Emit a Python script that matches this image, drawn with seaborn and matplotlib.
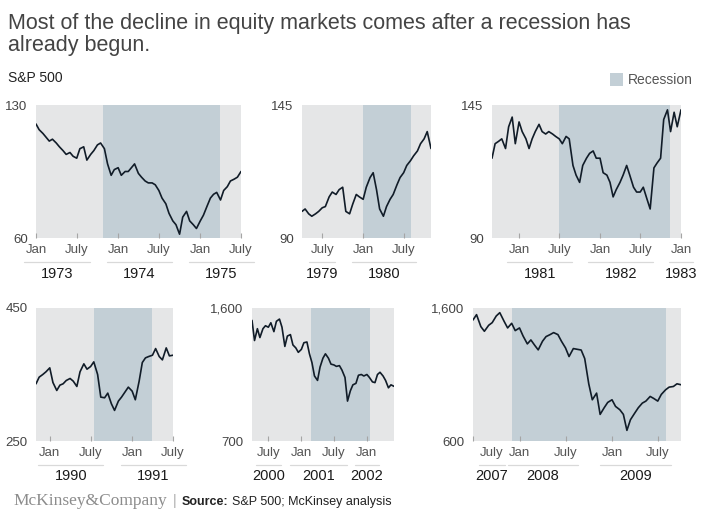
import pandas as pd
import matplotlib
matplotlib.use('Agg')
import matplotlib.pyplot as plt
import matplotlib.dates as mdates
from matplotlib.lines import Line2D
from matplotlib.patches import Rectangle
from matplotlib.transforms import ScaledTranslation
import seaborn as sns

# S&P 500, semi-monthly readings (1st and 15th of each month)
sp_1973 = [120, 117, 115, 113, 111, 112, 110, 108, 106, 104, 105, 103,
           102, 107, 108, 101, 104, 106, 109, 110, 107, 99, 93, 96,
           97, 93, 95, 95, 97, 99, 94, 92, 90, 89, 89, 88,
           85, 81, 78, 73, 69, 67, 62, 71, 74, 69, 67, 65,
           69, 72, 77, 81, 83, 84, 80, 85, 87, 90, 91, 92, 95]
sp_1979 = [101, 102, 100, 99, 100, 101, 102.5, 103, 107, 109, 108, 110,
           111, 101, 100, 104, 108, 107,
           106, 111, 115, 117, 110, 102, 99, 103, 106, 108, 112, 115,
           117, 120, 122, 124, 126, 129, 131, 134, 127]
sp_1981 = [123, 129, 130, 131, 127, 136, 140, 129,
           138, 134, 131, 127, 131, 134, 137, 134, 133, 134, 133, 132,
           131, 129, 132, 131, 120, 116, 113, 120, 123, 125, 126, 123,
           123, 117, 116, 113, 107, 110, 113, 116, 120, 116, 111, 109,
           109, 111, 106, 102, 119, 121, 123, 139, 143, 134, 142, 136,
           143]
sp_1990 = [336, 346, 350, 354,
           360, 338, 326, 334, 336, 341, 344, 340, 332, 354, 366, 358,
           362, 369, 350, 316, 315, 322, 306, 296, 310, 316, 324, 331,
           325, 312, 340, 368, 375, 377, 379, 389, 377, 372, 390, 378, 379]
sp_2001 = [1516, 1380, 1460, 1400, 1460, 1480, 1470, 1500, 1440, 1510,
           1525, 1470, 1340, 1410, 1420, 1350, 1330, 1300,
           1320, 1365, 1370, 1290, 1230, 1140, 1110, 1200, 1260, 1290,
           1260, 1220, 1215, 1205, 1210, 1180, 1130, 970, 1040, 1080,
           1090, 1145, 1150, 1140,
           1150, 1130, 1100, 1095, 1150, 1165, 1140, 1110, 1060, 1080, 1070]
sp_2008 = [1510, 1550, 1460, 1425, 1470, 1490, 1540, 1565, 1500, 1450,
           1485, 1430,
           1450, 1390, 1330, 1360, 1320, 1285, 1350, 1385, 1400, 1415,
           1400, 1350, 1300, 1235, 1295, 1290, 1284, 1220, 1030, 910,
           960, 800, 850, 890,
           910, 860, 835, 800, 680, 760, 810, 850, 885, 900, 935, 920,
           900, 950, 985, 1005, 1010, 1030, 1023]

series_starts = ['1973-01-01', '1979-04-01', '1980-09-01',
                 '1989-11-01', '2000-04-01', '2007-07-01']
series_values = [sp_1973, sp_1979, sp_1981, sp_1990, sp_2001, sp_2008]
y_limits = [(60, 130), (90, 145), (90, 145), (250, 450), (700, 1600), (600, 1600)]
recessions = [('1973-10-24', '1975-03-28'), ('1980-01-01', '1980-08-01'),
              ('1981-07-01', '1982-11-13'), ('1990-07-14', '1991-03-29'),
              ('2001-02-25', '2002-01-19'), ('2007-12-01', '2009-08-03')]
month_ticks = [
    ['1973-01-01', '1973-07-01', '1974-01-01', '1974-07-01', '1975-01-01', '1975-07-01'],
    ['1979-07-01', '1980-01-01', '1980-07-01'],
    ['1981-01-01', '1981-07-01', '1982-01-01', '1982-07-01', '1983-01-01'],
    ['1990-01-01', '1990-07-01', '1991-01-01', '1991-07-01'],
    ['2000-07-01', '2001-01-01', '2001-07-01', '2002-01-01'],
    ['2007-07-01', '2008-01-01', '2008-07-01', '2009-01-01', '2009-07-01'],
]

# layout in image pixels: left, top, right, bottom
W, H = 701, 522
boxes = [(36, 105, 241, 238), (302, 105, 431, 238), (492, 105, 681, 238),
         (36, 308, 173, 441), (252, 308, 394, 441), (473, 308, 681, 441)]

BG = '#e5e6e7'
REC = '#c3cfd6'
LINE = '#111c28'

sns.set_style('white')
plt.rcParams['font.family'] = ['Liberation Sans', 'DejaVu Sans']

fig = plt.figure(figsize=(W / 100, H / 100), dpi=100)

year_groups = []
for i, (vals, start) in enumerate(zip(series_values, series_starts)):
    l, t, r, b = boxes[i]
    ax = fig.add_axes([l / W, 1 - b / H, (r - l) / W, (b - t) / H])
    ax.set_facecolor(BG)
    dates = pd.date_range(start, periods=len(vals), freq='SMS')
    df = pd.DataFrame({'date': dates, 'value': vals})

    r0, r1 = recessions[i]
    ax.axvspan(mdates.date2num(pd.Timestamp(r0)), mdates.date2num(pd.Timestamp(r1)),
               color=REC, lw=0, zorder=0)
    sns.lineplot(data=df, x='date', y='value', ax=ax, color=LINE, lw=1.2)

    ax.set_xlim(mdates.date2num(dates[0]), mdates.date2num(dates[-1]))
    lo, hi = y_limits[i]
    ax.set_ylim(lo, hi)
    ax.set_yticks([lo, hi])
    ax.set_yticklabels([f'{lo:,}', f'{hi:,}'])
    ax.set_xlabel('')
    ax.set_ylabel('')
    for s in ax.spines.values():
        s.set_visible(False)

    tick_nums = [mdates.date2num(pd.Timestamp(d)) for d in month_ticks[i]]
    ax.set_xticks(tick_nums)
    ax.set_xticklabels([''] * len(tick_nums))
    ax.tick_params(axis='x', direction='in', length=3.5, width=0.8,
                   color='#a5a5a5', bottom=True)
    ax.tick_params(axis='y', length=0, pad=6, labelsize=9.5, labelcolor='#444444')

    hgt = b - t
    groups = {}
    for d, xn in zip(month_ticks[i], tick_nums):
        ts = pd.Timestamp(d)
        lab = 'Jan' if ts.month == 1 else 'July'
        tr = ax.get_xaxis_transform()
        if i == 5 and d == '2007-07-01':
            tr = tr + ScaledTranslation(19 / 100, 0, fig.dpi_scale_trans)
        txt = ax.text(xn, -12 / hgt, lab, transform=tr, ha='center', va='center',
                      fontsize=9.5, color='#555555')
        groups.setdefault(ts.year, []).append(txt)
    year_groups.append((b, groups))

# year lines and labels under the month labels
fig.canvas.draw()
renderer = fig.canvas.get_renderer()
for b, groups in year_groups:
    for year, texts in groups.items():
        bbs = [tx.get_window_extent(renderer) for tx in texts]
        x0 = min(bb.x0 for bb in bbs) - 1
        x1 = max(bb.x1 for bb in bbs) + 1
        y_line = H - (b + 24)
        fig.add_artist(Line2D([x0 / W, x1 / W], [y_line / H] * 2,
                              transform=fig.transFigure, color='#d9d9d9', lw=0.9))
        fig.text((x0 + x1) / 2 / W, (H - (b + 35.5)) / H, str(year), ha='center',
                 va='center', fontsize=10.5, color='#1a1a1a')

# title, subtitle, legend
fig.text(8 / W, 1 - 29.5 / H,
         'Most of the decline in equity markets comes after a recession has',
         fontsize=15.5, color='#444444', va='baseline')
fig.text(8 / W, 1 - 51 / H, 'already begun.', fontsize=15.5, color='#444444',
         va='baseline')
fig.text(8 / W, 1 - 82 / H, 'S&P 500', fontsize=10, color='#222222', va='baseline')
fig.add_artist(Rectangle((610 / W, 1 - 86 / H), 13 / W, 13 / H,
                         transform=fig.transFigure, color=REC, lw=0))
fig.text(628 / W, 1 - 80 / H, 'Recession', fontsize=10, color='#555555', va='center')

# footer
fig.text(13 / W, 1 - 505 / H, 'McKinsey&Company', family=['Liberation Serif', 'DejaVu Serif'],
         fontsize=12.5, color='#8c8c8c', va='baseline')
fig.text(173 / W, 1 - 505 / H, '|', fontsize=10, color='#aaaaaa', va='baseline')
src = fig.text(182 / W, 1 - 505 / H, 'Source:', fontsize=9, fontweight='bold',
               color='#222222', va='baseline')
fig.canvas.draw()
sb = src.get_window_extent(renderer)
fig.text((sb.x1 + 3) / W, 1 - 505 / H, 'S&P 500; McKinsey analysis', fontsize=9,
         color='#222222', va='baseline')

fig.savefig('out.png', dpi=100)
